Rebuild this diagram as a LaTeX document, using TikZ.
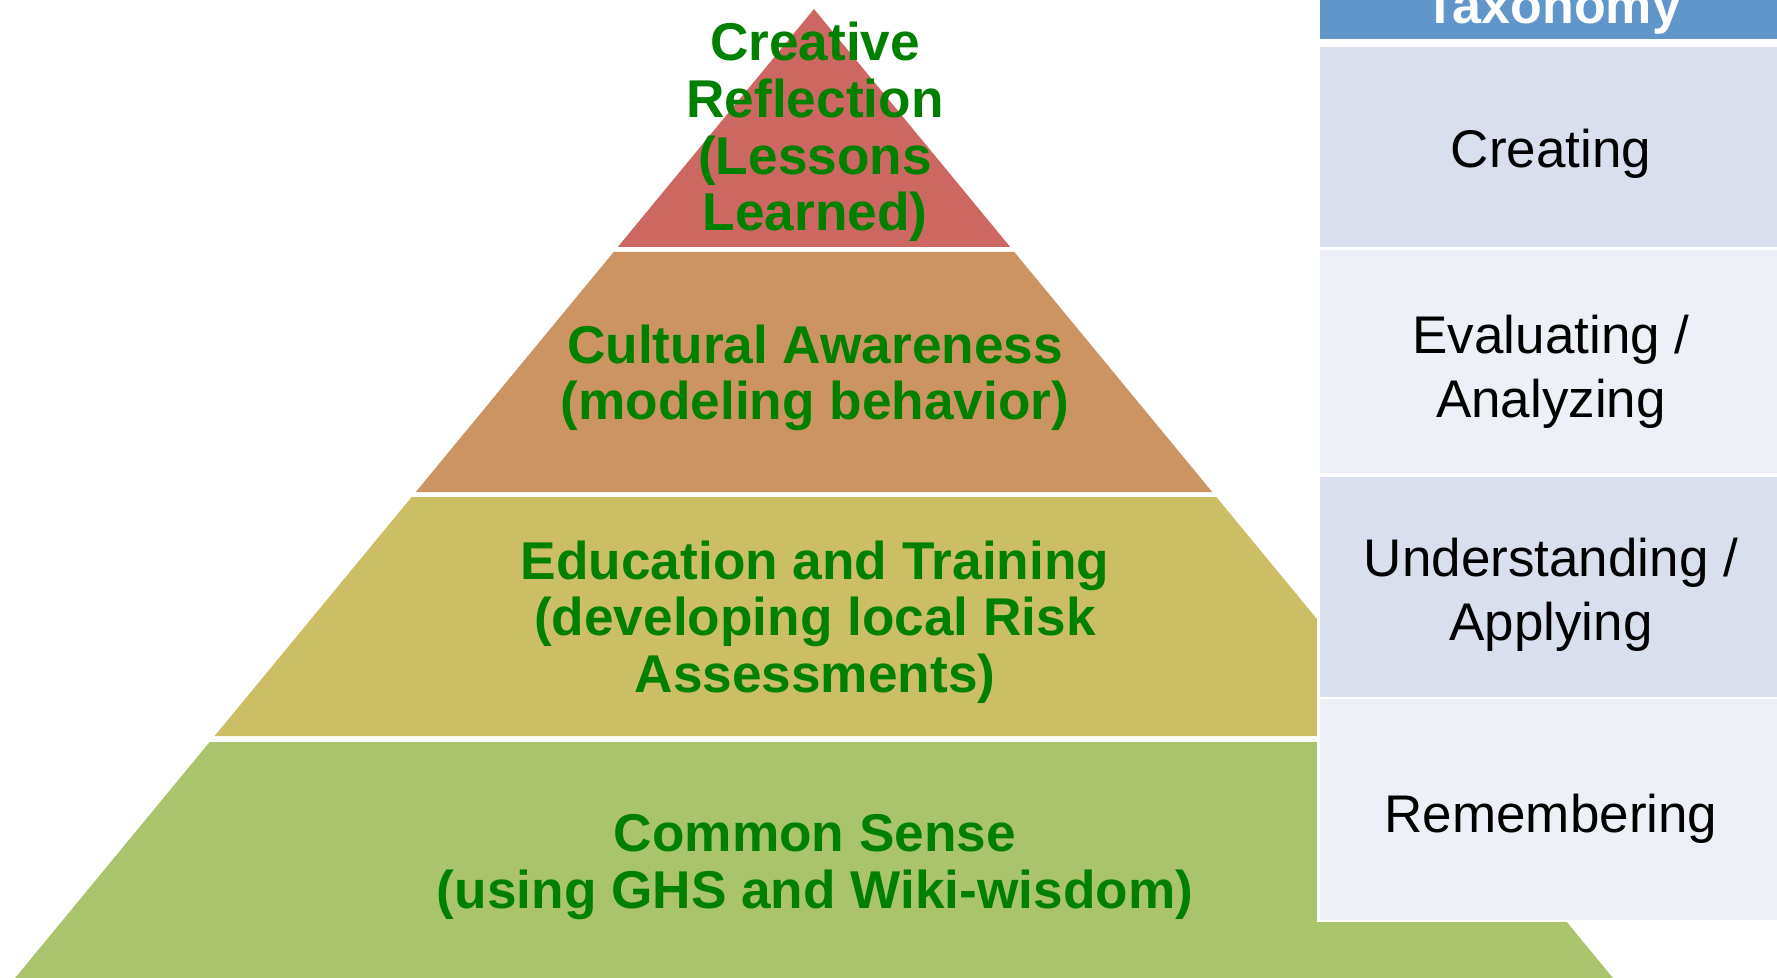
\documentclass[tikz,border=0pt]{standalone}
\usepackage{fontspec}
\setmainfont{Liberation Sans}
\usetikzlibrary{calc}

\definecolor{tierred}{RGB}{205,103,97}
\definecolor{tierbrown}{RGB}{204,148,98}
\definecolor{tieryellow}{RGB}{203,190,101}
\definecolor{tiergreen}{RGB}{170,196,108}
\definecolor{headblue}{RGB}{96,150,201}
\definecolor{rowdark}{RGB}{217,223,237}
\definecolor{rowlight}{RGB}{237,240,246}
\definecolor{textgreen}{RGB}{0,128,0}

\begin{document}
\begin{tikzpicture}[x=0.5pt,y=-0.5pt,
  tier/.style={text=textgreen,font=\fontsize{26.6}{28.3}\selectfont\bfseries,
               align=center,inner sep=0pt},
  level/.style={text=black,font=\fontsize{26.5}{32}\selectfont,
                align=center,inner sep=0pt}]

  \clip (0,0) rectangle (1777,978);

  % pyramid bands: top y / bottom y / colour
  \foreach \ya/\yb/\col in {9/247/tierred,252/492/tierbrown,
                            497/736/tieryellow,742/990/tiergreen}{
    \pgfmathsetmacro{\da}{0.8245*(\ya-9)}
    \pgfmathsetmacro{\db}{0.8245*(\yb-9)}
    \fill[\col] (814-\da,\ya) -- (814+\da,\ya) -- (814+\db,\yb)
                -- (814-\db,\yb) -- cycle;
  }

  \node[tier] (creative) at (815,132) {Creative\\Reflection\\(Lessons\\Learned)};
  \node[tier] (cultural) at (815,378) {Cultural Awareness\\(modeling behavior)};
  \node[tier] (education) at (815,622)
        {Education and Training\\(developing local Risk\\Assessments)};
  \node[tier] (common) at (815,867) {Common Sense\\(using GHS and Wiki-wisdom)};

  % taxonomy table
  \fill[white] (1317,-10) rectangle (1790,922);
  \fill[headblue] (1320,-10) rectangle (1790,39);
  \fill[rowdark] (1320,47) rectangle (1790,247);
  \fill[rowlight] (1320,250) rectangle (1790,473);
  \fill[rowdark] (1320,477) rectangle (1790,697);
  \fill[rowlight] (1320,699) rectangle (1790,920);

  \node[level,anchor=base,text=white,font=\fontsize{26}{32}\selectfont\bfseries]
        (taxonomy) at (1553,24) {Taxonomy};
  \node[level,anchor=base] (creating) at (1551,168) {Creating};
  \node[level] (evaluating) at (1551,372) {Evaluating /\\Analyzing};
  \node[level] (understanding) at (1551,595) {Understanding /\\Applying};
  \node[level,anchor=base] (remembering) at (1551,832) {Remembering};

\end{tikzpicture}
\end{document}
